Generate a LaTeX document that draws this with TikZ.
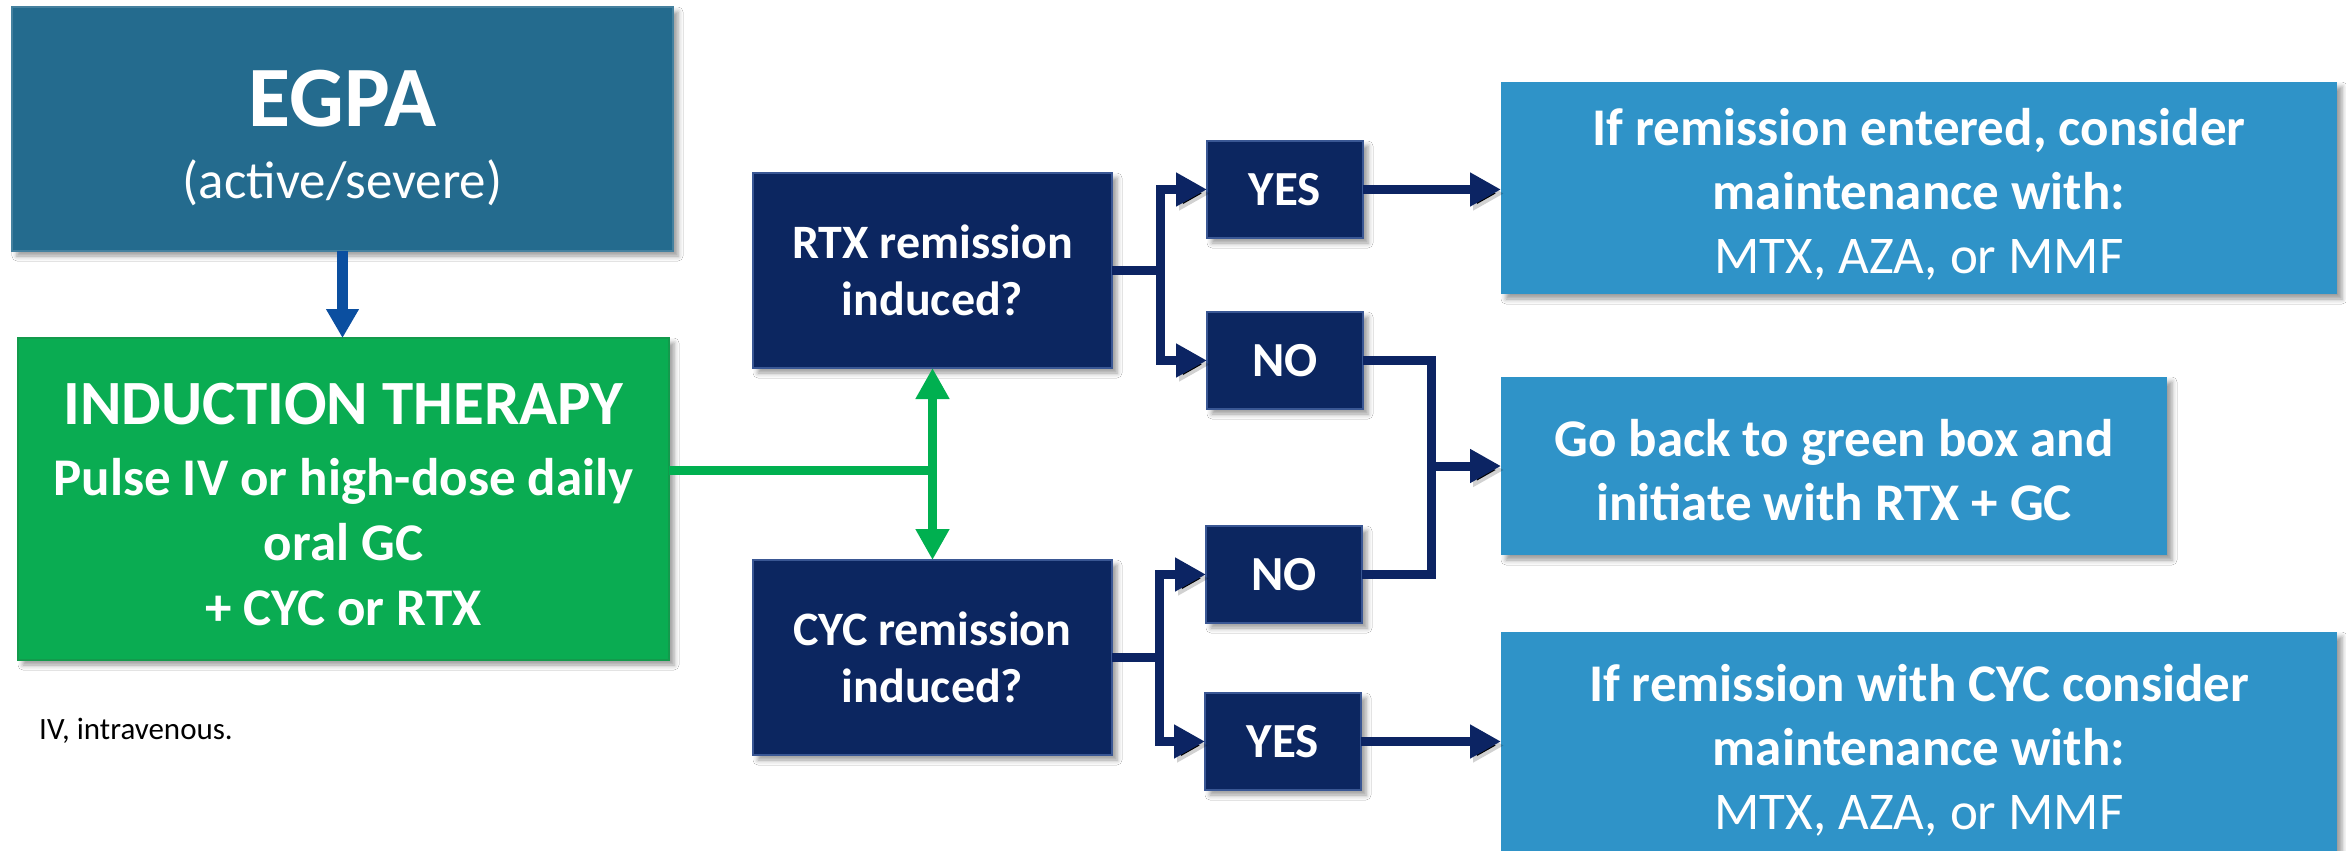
\documentclass[tikz,border=0pt]{standalone}
\usepackage{fontspec}
\setmainfont{Carlito}
\usetikzlibrary{arrows.meta,shadows.blur}

\definecolor{egpablue}{HTML}{246B8E}
\definecolor{indgreen}{HTML}{0AAC52}
\definecolor{indgreenedge}{HTML}{139A4C}
\definecolor{navybox}{HTML}{0C2660}
\definecolor{navyedge}{HTML}{3A5794}
\definecolor{navyline}{HTML}{0C2463}
\definecolor{maintblue}{HTML}{2F93C8}
\definecolor{linkgreen}{HTML}{00B050}
\definecolor{downblue}{HTML}{0B4FA0}

\newcommand{\fsz}[2]{\fontsize{#1}{#2}\selectfont}
% invisible strut that sets the height of a first line
\newcommand{\toppad}[1]{\rule{0pt}{#1}}

\tikzset{
  x=1pt, y=-1pt,
  boxshadow/.style={blur shadow={shadow xshift=5pt, shadow yshift=-5pt,
      shadow blur radius=5pt, shadow opacity=40}},
  basebox/.style={rectangle, inner sep=0pt, outer sep=0pt, align=center,
      text=white, boxshadow},
  egpabox/.style={basebox, fill=egpablue, draw=egpablue!85!white, line width=1.5pt,
      minimum width=661pt, minimum height=244pt},
  indbox/.style={basebox, fill=indgreen, draw=indgreenedge, line width=2pt,
      minimum width=651pt, minimum height=322pt,
      font=\bfseries\fsz{53}{65}},
  askbox/.style={basebox, fill=navybox, draw=navyedge, line width=2pt,
      minimum width=359pt, minimum height=195pt,
      font=\bfseries\fsz{48}{57}},
  ansbox/.style={basebox, fill=navybox, draw=navyedge, line width=2pt,
      minimum width=156pt, minimum height=97pt,
      font=\bfseries\fsz{49}{56}},
  outbox/.style={basebox, fill=maintblue, draw=none,
      font=\bfseries\fsz{53}{64}},
  lineshadow/.style={preaction={draw=black, draw opacity=0.18,
      transform canvas={shift={(3pt,-4pt)}}}},
  navlink/.style={draw=navyline, line width=9pt, line join=miter, lineshadow},
  navtip/.style={navlink, -{Triangle[length=31pt,width=32pt]}},
  greenlink/.style={draw=linkgreen, line width=9pt},
  greentip/.style={greenlink, {Triangle[length=31pt,width=32pt]}-{Triangle[length=31pt,width=32pt]}},
  downtip/.style={draw=downblue, line width=11pt,
      -{Triangle[length=29pt,width=31pt]}},
  notetext/.style={anchor=west, inner sep=0pt, text=black,
      font=\fsz{31}{36}}
}

\begin{document}
\begin{tikzpicture}
\fill[white] (0,0) rectangle (2346,851);
\useasboundingbox (0,0) rectangle (2346,851);

% left column
\node[egpabox] (egpa) at (342.5,129)
  {\bfseries\fsz{86}{90}\toppad{74pt}EGPA\\[32pt]
   \mdseries\fsz{53}{60}(active/severe)};
\node[indbox] (ind) at (343.5,499)
  {\fsz{63}{68}\toppad{52pt}INDUCTION THERAPY\\[6pt]
   \fsz{53}{65}Pulse IV or high-dose daily\\
   \fsz{53}{65}oral GC\\
   \fsz{53}{65}+ CYC or RTX};
\node[notetext] (note) at (39,731) {IV, intravenous.};

% decision boxes
\node[askbox] (rtx) at (932.5,270.5) {RTX remission\\induced?};
\node[askbox] (cyc) at (932.5,657.5) {CYC remission\\induced?};

% answers
\node[ansbox] (yes1) at (1285,189.5) {YES};
\node[ansbox] (no1)  at (1285,360.5) {NO};
\node[ansbox] (no2)  at (1284,574.5) {NO};
\node[ansbox] (yes2) at (1283,741.5) {YES};

% outcomes
\node[outbox, minimum width=836pt, minimum height=212pt] (maint1) at (1919,188)
  {\toppad{50pt}If remission entered, consider\\ maintenance with:\\
   \mdseries MTX, AZA, or MMF};
\node[outbox, minimum width=666pt, minimum height=178pt] (goback) at (1834,466)
  {\toppad{46pt}Go back to green box and\\ initiate with RTX + GC};
\node[outbox, minimum width=836pt, minimum height=219pt] (maint2) at (1919,741.5)
  {\toppad{54pt}If remission with CYC consider\\ maintenance with:\\
   \mdseries MTX, AZA, or MMF};

% junction points
\coordinate (gj) at (932.5,470);
\coordinate (rj) at (1160,270.5);
\coordinate (cj) at (1159,657.5);
\coordinate (mj) at (1431,466);

% connectors
\draw[downtip] (egpa.south) -- (egpa.south |- ind.north);
\draw[greenlink] (ind.east |- gj) -- (gj);
\draw[greentip] (rtx.south) -- (cyc.north);

\draw[navlink] (rtx.east) -- (rj);
\draw[navtip] (rj) |- (yes1.west);
\draw[navtip] (rj) |- (no1.west);
\draw[navlink] (cyc.east) -- (cj);
\draw[navtip] (cj) |- (no2.west);
\draw[navtip] (cj) |- (yes2.west);

\draw[navtip] (yes1.east) -- (maint1.west |- yes1.east);
\draw[navtip] (yes2.east) -- (maint2.west |- yes2.east);
\draw[navlink] (no1.east) -| (mj);
\draw[navlink] (no2.east) -| (mj);
\draw[navtip] (mj) -- (goback.west);
\end{tikzpicture}
\end{document}
